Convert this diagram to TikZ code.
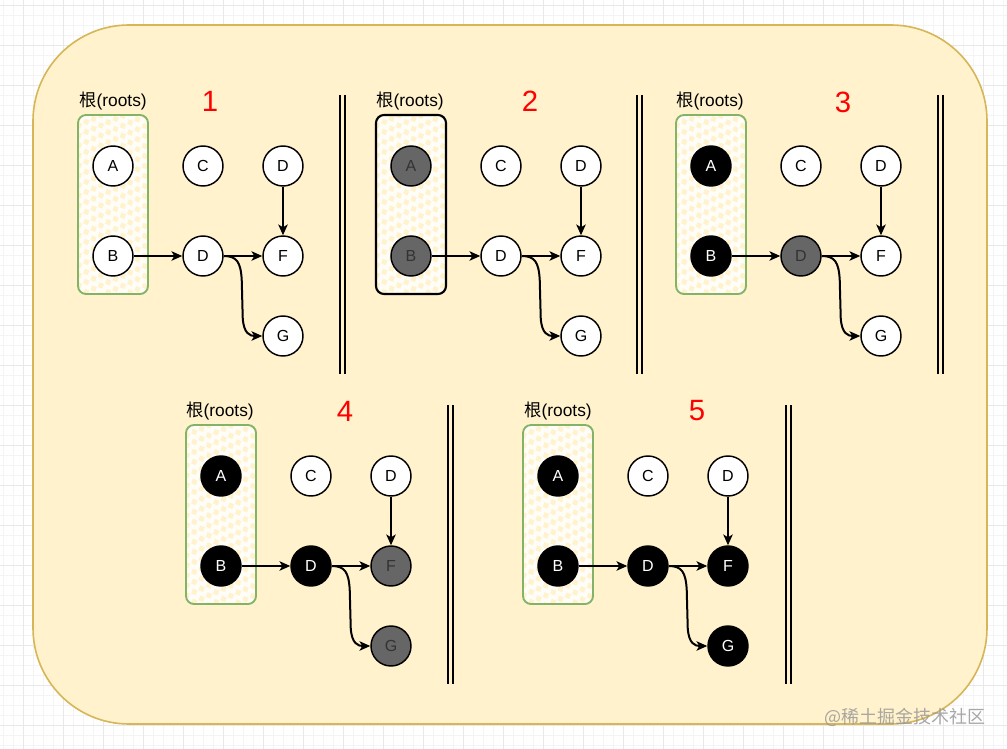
\documentclass[tikz,border=0pt]{standalone}
\usepackage{fontspec}
\setmainfont{Liberation Sans}
\newfontfamily\cjk{Noto Sans CJK SC}
\usepackage{tikz}
\usetikzlibrary{arrows.meta,decorations.pathmorphing}
\definecolor{cream}{HTML}{FFF2CC}
\definecolor{gold}{HTML}{D6B656}
\definecolor{leaf}{HTML}{82B366}
\definecolor{slate}{HTML}{666666}
\definecolor{ink}{HTML}{333333}
\definecolor{gridmajor}{HTML}{E8E8E8}
\definecolor{gridminor}{HTML}{F4F4F4}

\begin{document}
\begin{tikzpicture}[x=0.75pt,y=-0.75pt,
  obj/.style={circle,draw=black,line width=1.1pt,fill=white,minimum size=30pt,inner sep=0pt,font=\fontsize{12}{14}\selectfont},
  grey/.style={obj,fill=slate,text=ink},
  dark/.style={obj,fill=black,text=white},
  rootsbox/.style={rectangle,rounded corners=6pt,line width=1.4pt,minimum width=52.5pt,minimum height=134.25pt,inner sep=0pt},
  rootlabel/.style={font=\fontsize{13}{15}\selectfont,inner sep=0pt},
  stepnum/.style={font=\fontsize{22}{26}\selectfont,text=red,inner sep=0pt},
  edge/.style={-{Stealth[length=8pt,width=7pt,inset=2pt]},line width=1.5pt},
  bar/.style={line width=1.2pt},
  zig/.style={white,line width=3pt,opacity=0.85,decorate,decoration={zigzag,segment length=6pt,amplitude=1.6pt}}]
\useasboundingbox (0,0) rectangle (1007,749);
\fill[white] (0,0) rectangle (1007,749);
\foreach \x in {3,13,...,1003} \draw[gridminor,line width=0.4pt] (\x,0) -- (\x,749);
\foreach \y in {5,15,...,745} \draw[gridminor,line width=0.4pt] (0,\y) -- (1007,\y);
\foreach \x in {23,63,...,1003} \draw[gridmajor,line width=0.6pt] (\x,0) -- (\x,749);
\foreach \y in {5,45,...,745} \draw[gridmajor,line width=0.6pt] (0,\y) -- (1007,\y);
\draw[fill=cream,draw=gold,line width=1.2pt,rounded corners=72pt] (33,25) rectangle (987,724);
\foreach \bx/\by in {78/115,376/115,676/115,186/425,523/425}{
  \begin{scope}
  \clip[rounded corners=6pt] (\bx,\by) rectangle ++(70,179);
  \foreach \k in {0,...,23} \draw[zig] (\bx-10,\by+\k*10) -- ++(95,-42);
  \end{scope}
}

\node[rootsbox,draw=leaf] (r1) at (113,204.5) {};
\node[rootlabel] (l1) at (113,101) {{\cjk 根}(roots)};
\node[stepnum] (n1) at (210,101) {1};
\node[obj] (a1) at (113,166) {A};
\node[obj] (c1) at (203,166) {C};
\node[obj] (t1) at (283,166) {D};
\node[obj] (b1) at (113,256) {B};
\node[obj] (d1) at (203,256) {D};
\node[obj] (f1) at (283,256) {F};
\node[obj] (g1) at (283,336) {G};
\draw[edge] (b1) -- (d1);
\draw[edge] (d1) -- (f1);
\draw[edge] (t1) -- (f1);
\draw[edge] (d1.east) .. controls +(13,0) and +(-1,-18) .. ++(18,24) -- ++(1,38) .. controls +(1,16) and +(-12,0) .. (g1.west);
\draw[bar] (340,95) -- (340,374) (345,95) -- (345,374);

\node[rootsbox,draw=black,line width=1.6pt] (r2) at (411,204.5) {};
\node[rootlabel] (l2) at (410,101) {{\cjk 根}(roots)};
\node[stepnum] (n2) at (530,101) {2};
\node[grey] (a2) at (411,166) {A};
\node[obj] (c2) at (501,166) {C};
\node[obj] (t2) at (581,166) {D};
\node[grey] (b2) at (411,256) {B};
\node[obj] (d2) at (501,256) {D};
\node[obj] (f2) at (581,256) {F};
\node[obj] (g2) at (581,336) {G};
\draw[edge] (b2) -- (d2);
\draw[edge] (d2) -- (f2);
\draw[edge] (t2) -- (f2);
\draw[edge] (d2.east) .. controls +(13,0) and +(-1,-18) .. ++(18,24) -- ++(1,38) .. controls +(1,16) and +(-12,0) .. (g2.west);
\draw[bar] (637,95) -- (637,374) (642,95) -- (642,374);

\node[rootsbox,draw=leaf] (r3) at (711,204.5) {};
\node[rootlabel] (l3) at (710,101) {{\cjk 根}(roots)};
\node[stepnum] (n3) at (843,102) {3};
\node[dark] (a3) at (711,166) {A};
\node[obj] (c3) at (801,166) {C};
\node[obj] (t3) at (881,166) {D};
\node[dark] (b3) at (711,256) {B};
\node[grey] (d3) at (801,256) {D};
\node[obj] (f3) at (881,256) {F};
\node[obj] (g3) at (881,336) {G};
\draw[edge] (b3) -- (d3);
\draw[edge] (d3) -- (f3);
\draw[edge] (t3) -- (f3);
\draw[edge] (d3.east) .. controls +(13,0) and +(-1,-18) .. ++(18,24) -- ++(1,38) .. controls +(1,16) and +(-12,0) .. (g3.west);
\draw[bar] (938,95) -- (938,374) (943,95) -- (943,374);

\node[rootsbox,draw=leaf] (r4) at (221,514.5) {};
\node[rootlabel] (l4) at (220,411) {{\cjk 根}(roots)};
\node[stepnum] (n4) at (345,411) {4};
\node[dark] (a4) at (221,476) {A};
\node[obj] (c4) at (311,476) {C};
\node[obj] (t4) at (391,476) {D};
\node[dark] (b4) at (221,566) {B};
\node[dark] (d4) at (311,566) {D};
\node[grey] (f4) at (391,566) {F};
\node[grey] (g4) at (391,646) {G};
\draw[edge] (b4) -- (d4);
\draw[edge] (d4) -- (f4);
\draw[edge] (t4) -- (f4);
\draw[edge] (d4.east) .. controls +(13,0) and +(-1,-18) .. ++(18,24) -- ++(1,38) .. controls +(1,16) and +(-12,0) .. (g4.west);
\draw[bar] (448,405) -- (448,684) (453,405) -- (453,684);

\node[rootsbox,draw=leaf] (r5) at (558,514.5) {};
\node[rootlabel] (l5) at (558,411) {{\cjk 根}(roots)};
\node[stepnum] (n5) at (697,411) {5};
\node[dark] (a5) at (558,476) {A};
\node[obj] (c5) at (648,476) {C};
\node[obj] (t5) at (728,476) {D};
\node[dark] (b5) at (558,566) {B};
\node[dark] (d5) at (648,566) {D};
\node[dark] (f5) at (728,566) {F};
\node[dark] (g5) at (728,646) {G};
\draw[edge] (b5) -- (d5);
\draw[edge] (d5) -- (f5);
\draw[edge] (t5) -- (f5);
\draw[edge] (d5.east) .. controls +(13,0) and +(-1,-18) .. ++(18,24) -- ++(1,38) .. controls +(1,16) and +(-12,0) .. (g5.west);
\draw[bar] (786,405) -- (786,684) (791,405) -- (791,684);

\node[font=\cjk\fontsize{13.5}{15}\selectfont,text=gray!85,opacity=0.8] (wm) at (905,717) {@稀土掘金技术社区};
\end{tikzpicture}
\end{document}
